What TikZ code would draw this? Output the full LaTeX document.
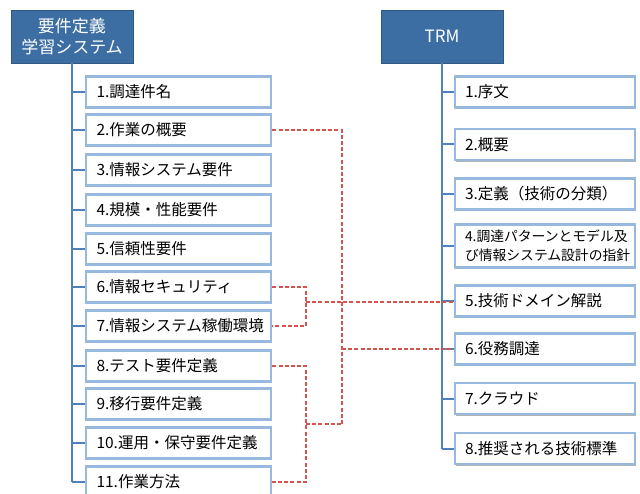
\documentclass[tikz,border=0pt]{standalone}
\usepackage{fontspec}
\setmainfont{Noto Sans CJK JP}
\usetikzlibrary{shadows}
\definecolor{hdr}{RGB}{60,110,163}
\definecolor{bxline}{RGB}{152,185,222}
\definecolor{trunkc}{RGB}{79,129,189}
\definecolor{redl}{RGB}{214,82,78}
\tikzset{
  hdrbox/.style={rectangle, fill=hdr, draw=hdr!80!black, line width=0.4pt, text=white,
    minimum width=122pt, minimum height=53pt, inner sep=0pt, align=center,
    font=\fontsize{17}{21}\selectfont,
    drop shadow={shadow xshift=1.2pt, shadow yshift=-1.5pt, fill=black!50, opacity=0.5}},
  itembox/.style={rectangle, fill=white, draw=bxline, line width=2.8pt,
    minimum height=31pt, inner sep=0pt, text width=#1, align=left,
    font=\fontsize{15.5}{18}\selectfont,
    drop shadow={shadow xshift=1.4pt, shadow yshift=-1.6pt, fill=black!50, opacity=0.6}},
  lbox/.style={itembox=164pt, minimum width=185pt},
  rbox/.style={itembox=160pt, minimum width=180pt},
  trunk/.style={draw=trunkc, line width=2pt},
  rl/.style={draw=redl, line width=1.5pt, dash pattern=on 4pt off 2.2pt},
}
\begin{document}
\begin{tikzpicture}[x=1pt,y=-1pt]
\useasboundingbox (0,0) rectangle (640,494);
% headers
\node[hdrbox] (LH) at (72,36.5) {要件定義\\学習システム};
\node[hdrbox] (RH) at (442,36.5) {TRM};
% left items
\node[lbox] (L1) at (178.5,92) {1.調達件名};
\node[lbox] (L2) at (178.5,130) {2.作業の概要};
\node[lbox] (L3) at (178.5,170) {3.情報システム要件};
\node[lbox] (L4) at (178.5,210) {4.規模・性能要件};
\node[lbox] (L5) at (178.5,249) {5.信頼性要件};
\node[lbox] (L6) at (178.5,287) {6.情報セキュリティ};
\node[lbox] (L7) at (178.5,326) {7.情報システム稼働環境};
\node[lbox] (L8) at (178.5,366) {8.テスト要件定義};
\node[lbox] (L9) at (178.5,404) {9.移行要件定義};
\node[lbox] (L10) at (178.5,443) {10.運用・保守要件定義};
\node[lbox] (L11) at (178.5,482) {11.作業方法};
% right items
\node[rbox] (R1) at (545,92) {1.序文};
\node[rbox] (R2) at (545,144.5) {2.概要};
\node[rbox] (R3) at (545,194) {3.定義（技術の分類）};
\node[rbox, minimum height=43pt, font=\fontsize{13.8}{19}\selectfont] (R4) at (545,246) {4.調達パターンとモデル及\\び情報システム設計の指針};
\node[rbox] (R5) at (545,301) {5.技術ドメイン解説};
\node[rbox] (R6) at (545,349) {6.役務調達};
\node[rbox] (R7) at (545,398.5) {7.クラウド};
\node[rbox] (R8) at (545,448.5) {8.推奨される技術標準};
% trunks
\draw[trunk] (LH.south) -- (LH.south |- L11);
\foreach \i in {1,...,11} \draw[trunk] (LH.south |- L\i) -- (L\i.west);
\draw[trunk] (RH.south) -- (RH.south |- R8);
\foreach \i in {1,...,8} \draw[trunk] (RH.south |- R\i) -- (R\i.west);
% red dashed connectors
\coordinate (ja) at (306,0);
\coordinate (jb) at (342,0);
\coordinate (m67) at (0,302);
\coordinate (m811) at (0,424);
\draw[rl] (L6.east) -| (ja |- L7) -- (L7.east);
\draw[rl] (ja |- m67) -- (R5.west |- m67);
\draw[rl] (L8.east) -| (ja |- L11) -- (L11.east);
\draw[rl] (ja |- m811) -- (jb |- m811);
\draw[rl] (L2.east) -| (jb |- m811);
\draw[rl] (jb |- R6) -- (R6.west);
\end{tikzpicture}
\end{document}
